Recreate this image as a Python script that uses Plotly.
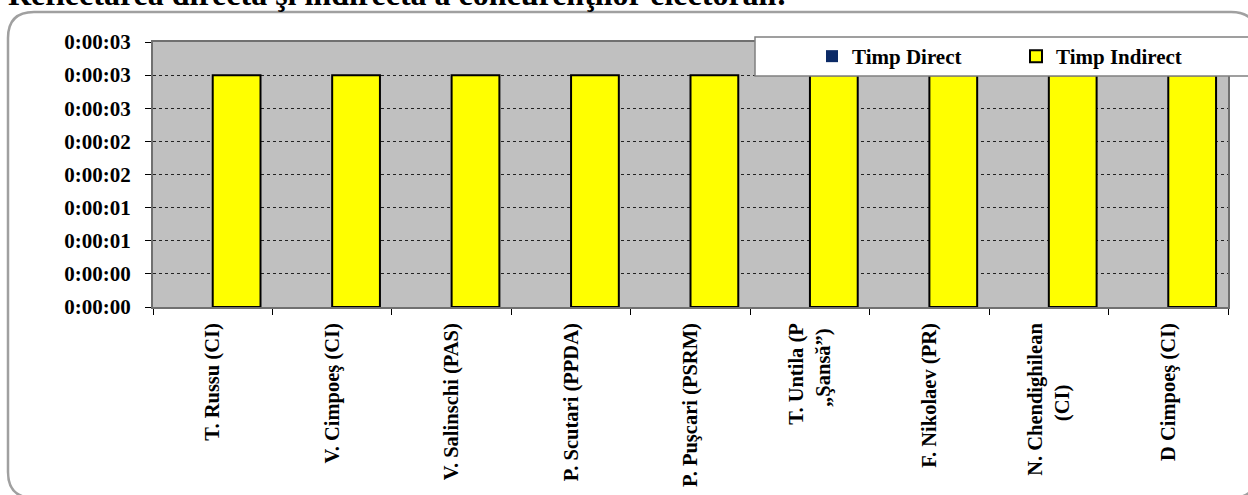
import plotly.graph_objects as go

# ---------------- data ----------------
NB = "\u00a0"
categories = [
    "T. Russu (CI)",
    "V. Cimpoeş (CI)",
    "V. Salinschi (PAS)",
    "P. Scutari (PPDA)",
    "P. Puşcari (PSRM)",
    "T. Untila (P<br>„Şansă”)" + NB,
    "F. Nikolaev (PR)",
    "N. Chendighilean<br>(CI)" + NB * 12,
    "D Cimpoeş (CI)",
]
timp_direct = [0, 0, 0, 0, 0, 0, 0, 0, 0]            # seconds
timp_indirect = [2.8, 2.8, 2.8, 2.8, 2.8, 2.8, 2.8, 2.8, 2.8]  # seconds
y_tickvals = [0, 0.4, 0.8, 1.2, 1.6, 2.0, 2.4, 2.8, 3.2]
y_ticktext = ["0:00:00", "0:00:00", "0:00:01", "0:00:01", "0:00:02",
              "0:00:02", "0:00:03", "0:00:03", "0:00:03"]
series_names = ["Timp Direct", "Timp Indirect"]
title_text = "Reflectarea directă şi indirectă a concurenţilor electorali:"

# ---------------- layout helpers ----------------
W, H = 1248, 495
ML, MR, MT, MB = 153, 20, 42, 188
PW = W - ML - MR
PH = H - MT - MB


def px(x):
    return (x - ML) / PW


def py(y):
    return (H - MB - y) / PH


FONT = "Liberation Serif, Times New Roman, serif"

fig = go.Figure()
fig.add_trace(go.Bar(
    x=categories, y=timp_direct, name=series_names[0],
    marker=dict(color="#0B2A66",
                line=dict(color="black",
                          width=[0 if v == 0 else 2 for v in timp_direct])),
))
fig.add_trace(go.Bar(
    x=categories, y=timp_indirect, name=series_names[1],
    marker=dict(color="#FFFF00", line=dict(color="black", width=2)),
))

# rounded outer border
x0, x1, y0, y1, r = 8, 1257, 12, 498, 26
path = (
    f"M {px(x0 + r)},{py(y0)} L {px(x1 - r)},{py(y0)} "
    f"Q {px(x1)},{py(y0)} {px(x1)},{py(y0 + r)} "
    f"L {px(x1)},{py(y1 - r)} Q {px(x1)},{py(y1)} {px(x1 - r)},{py(y1)} "
    f"L {px(x0 + r)},{py(y1)} Q {px(x0)},{py(y1)} {px(x0)},{py(y1 - r)} "
    f"L {px(x0)},{py(y0 + r)} Q {px(x0)},{py(y0)} {px(x0 + r)},{py(y0)} Z"
)
shapes = [
    dict(type="path", xref="paper", yref="paper", path=path,
         line=dict(color="#A0A0A0", width=2.5), fillcolor="rgba(0,0,0,0)",
         layer="above"),
    # legend box
    dict(type="rect", xref="paper", yref="paper",
         x0=px(755), x1=px(1256), y0=py(76), y1=py(37),
         line=dict(color="#808080", width=1.5), fillcolor="white",
         layer="above"),
]

fig.update_layout(
    width=W, height=H,
    margin=dict(l=ML, r=MR, t=MT, b=MB, pad=0, autoexpand=False),
    paper_bgcolor="white",
    plot_bgcolor="#C0C0C0",
    barmode="group", bargap=0.2, bargroupgap=0,
    font=dict(family=FONT, size=21, color="black", weight="bold"),
    showlegend=True,
    legend=dict(
        orientation="h", x=px(812), y=py(36), xanchor="left", yanchor="top",
        bgcolor="rgba(0,0,0,0)", borderwidth=0,
        font=dict(family=FONT, size=21, color="black", weight="bold"),
        entrywidth=159, entrywidthmode="pixels",
    ),
    shapes=shapes,
    annotations=[dict(
        text=title_text, xref="paper", yref="paper",
        x=px(6), y=py(14), xanchor="left", yanchor="bottom",
        showarrow=False,
        font=dict(family=FONT, size=32, color="black", weight="bold"),
    )],
    xaxis=dict(
        type="category", tickangle=-90, tickson="boundaries",
        ticks="outside", ticklen=6, tickcolor="black", tickwidth=1,
        showline=True, linecolor="#707070", linewidth=2, mirror=True,
        showgrid=False, ticklabelstandoff=6, automargin=False,
        tickfont=dict(family=FONT, size=20.5, color="black", weight="bold"),
    ),
    yaxis=dict(
        range=[0, 3.2], tickvals=y_tickvals, ticktext=y_ticktext,
        ticks="outside", ticklen=6, tickcolor="black", tickwidth=1,
        showline=True, linecolor="#707070", linewidth=2, mirror=True,
        showgrid=True, gridcolor="#222222", gridwidth=1, griddash="dot",
        zeroline=False, ticklabelstandoff=10, automargin=False,
        tickfont=dict(family=FONT, size=21, color="black", weight="bold"),
    ),
)

fig.write_html(
    "out.html",
    config={"displayModeBar": False},
    post_script="document.body.style.margin='0';"
                "document.body.style.overflow='hidden';",
)
